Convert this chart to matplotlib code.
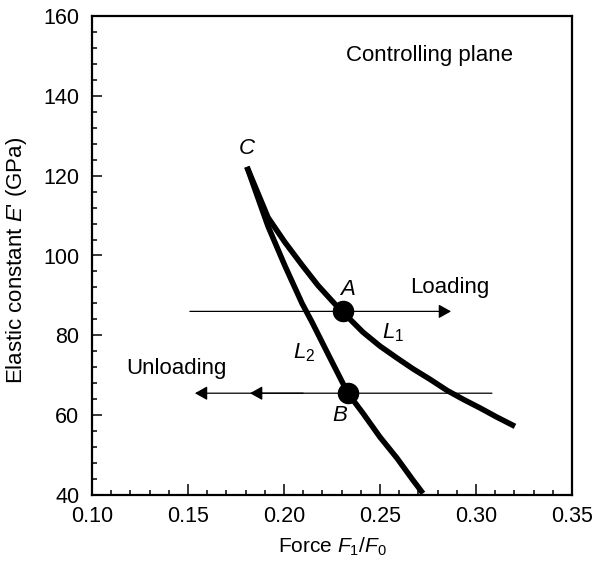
import matplotlib
matplotlib.use("Agg")
import matplotlib.pyplot as plt
from matplotlib.ticker import MultipleLocator

plt.rcParams['font.family'] = ['Liberation Sans', 'DejaVu Sans']
plt.rcParams['mathtext.fontset'] = 'custom'
plt.rcParams['mathtext.rm'] = 'Liberation Sans'
plt.rcParams['mathtext.it'] = 'Liberation Sans:italic'

# curve L1 (loading path) and L2 (unloading path), force ratio vs elastic constant
l1_force = [0.1807, 0.1917, 0.2005, 0.2094, 0.2177, 0.2266, 0.2307, 0.2411, 0.2500,
            0.2589, 0.2672, 0.2760, 0.2849, 0.2932, 0.3021, 0.3109, 0.3203]
l1_modulus = [122.2, 109.5, 103.3, 97.6, 92.5, 87.8, 85.8, 80.8, 77.3,
              74.3, 71.6, 69.0, 66.2, 64.0, 61.8, 59.5, 57.2]

l2_force = [0.1807, 0.1917, 0.2005, 0.2094, 0.2146, 0.2240, 0.2333, 0.2411, 0.2500,
            0.2589, 0.2672, 0.2724]
l2_modulus = [122.2, 107.3, 97.4, 88.0, 83.3, 74.3, 65.5, 60.5, 54.5,
              49.2, 43.7, 40.4]

# operating points A and B
point_a = (0.2307, 86.0)
point_b = (0.2333, 65.5)

# loading / unloading lines
loading_y = 86.0
loading_x = (0.151, 0.287)
unloading_y = 65.5
unloading_x = (0.3083, 0.1536)
unloading_mid_tip = 0.1823

fig = plt.figure(figsize=(5.92, 5.61), dpi=100)
ax = fig.add_axes([92 / 592, 66 / 561, 480 / 592, 479 / 561])

ax.plot(l1_force, l1_modulus, color='black', lw=4, solid_capstyle='butt', solid_joinstyle='round')
ax.plot(l2_force, l2_modulus, color='black', lw=4, solid_capstyle='butt', solid_joinstyle='round')

arrow = dict(arrowstyle='-|>,head_length=0.75,head_width=0.42', color='black', lw=0.9,
             mutation_scale=10, shrinkA=0, shrinkB=0)
ax.annotate('', xy=(loading_x[1], loading_y), xytext=(loading_x[0], loading_y), arrowprops=arrow)
ax.annotate('', xy=(unloading_x[1], unloading_y), xytext=(unloading_x[0], unloading_y), arrowprops=arrow)
ax.annotate('', xy=(unloading_mid_tip, unloading_y), xytext=(0.21, unloading_y), arrowprops=arrow)

ax.plot(*point_a, 'o', color='black', ms=14.5, zorder=5)
ax.plot(*point_b, 'o', color='black', ms=14.5, zorder=5)

ax.text(0.1807, 126.9, 'C', style='italic', fontsize=16, ha='center', va='center')
ax.text(0.2333, 91.5, 'A', style='italic', fontsize=16, ha='center', va='center')
ax.text(0.229, 60.0, 'B', style='italic', fontsize=16, ha='center', va='center')
ax.text(0.2568, 80.6, r'$L_1$', fontsize=16, ha='center', va='center')
ax.text(0.2105, 75.6, r'$L_2$', fontsize=16, ha='center', va='center')
ax.text(0.2865, 92.0, 'Loading', fontsize=16, ha='center', va='center')
ax.text(0.144, 71.8, 'Unloading', fontsize=16, ha='center', va='center')
ax.text(0.276, 150.2, 'Controlling plane', fontsize=16, ha='center', va='center')

ax.set_xlim(0.10, 0.35)
ax.set_ylim(40, 160)
ax.xaxis.set_major_locator(MultipleLocator(0.05))
ax.xaxis.set_minor_locator(MultipleLocator(0.01))
ax.yaxis.set_major_locator(MultipleLocator(20))
ax.yaxis.set_minor_locator(MultipleLocator(4))
ax.set_xticklabels([f'{v:.2f}' for v in ax.get_xticks()])
ax.tick_params(which='both', direction='in', top=False, right=False, labelsize=15.5, width=1.1)
ax.tick_params(axis='x', which='major', length=8, pad=8)
ax.tick_params(axis='y', which='major', length=7, pad=9)
ax.tick_params(which='minor', length=3.5)
for s in ax.spines.values():
    s.set_linewidth(1.6)

ax.set_xlabel(r'Force $F_1$/$F_0$', fontsize=15, labelpad=6)
ax.set_ylabel(r"Elastic constant $E$' (GPa)", fontsize=16)
ax.yaxis.set_label_coords(-0.132, 0.49)

fig.savefig('out.png', dpi=100)
